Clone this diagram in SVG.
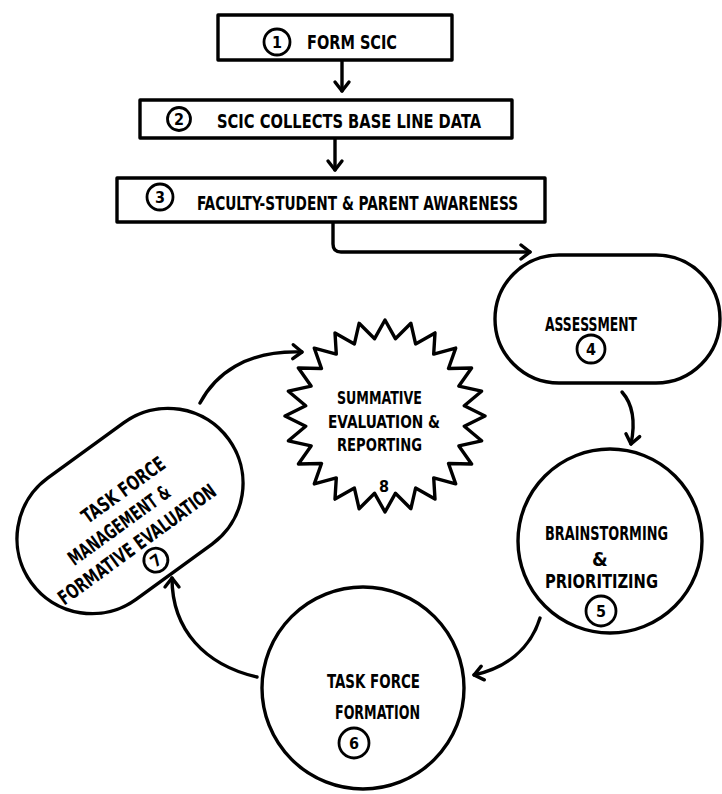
<svg xmlns="http://www.w3.org/2000/svg" width="722" height="794" viewBox="0 0 722 794">
<style>
  .shape { fill: #ffffff; stroke: #000000; stroke-width: 3.4; stroke-linejoin: round; }
  .num { fill: #ffffff; stroke: #000000; stroke-width: 2.8; }
  .t { font-family: "DejaVu Sans Condensed", "DejaVu Sans", sans-serif; font-weight: bold; font-size: 19px; fill: #000000; }
  .tb { font-family: "DejaVu Sans Condensed", "DejaVu Sans", sans-serif; font-weight: bold; font-size: 20px; fill: #000000; }
  .ts { font-family: "DejaVu Sans Condensed", "DejaVu Sans", sans-serif; font-weight: bold; font-size: 18px; fill: #000000; }
  .n { font-family: "DejaVu Sans Condensed", "DejaVu Sans", sans-serif; font-weight: bold; font-size: 16px; fill: #000000; text-anchor: middle; }
  .conn { fill: none; stroke: #000000; stroke-width: 3.4; stroke-linecap: round; }
</style>
<defs>
  <marker id="arr" markerUnits="userSpaceOnUse" markerWidth="24" markerHeight="24" viewBox="-12 -12 24 24" refX="0" refY="0" orient="auto">
    <path d="M-9,-7 L0,0 L-9,7" fill="none" stroke="#000000" stroke-width="3.4" stroke-linecap="round" stroke-linejoin="round"/>
  </marker>
</defs>
<rect x="0" y="0" width="722" height="794" fill="#ffffff"/>

<g id="connectors">
  <path class="conn" d="M342,60 L342,91" marker-end="url(#arr)"/>
  <path class="conn" d="M335,138 L335,170" marker-end="url(#arr)"/>
  <path class="conn" d="M333,222 L333,244 Q333,252 341,252 L530,252" marker-end="url(#arr)"/>
  <path class="conn" d="M622,392 Q638,410 631,444" marker-end="url(#arr)"/>
  <path class="conn" d="M540,618 C530,650 505,668 474,675" marker-end="url(#arr)"/>
  <path class="conn" d="M257,677 C205,665 172,630 172,578" marker-end="url(#arr)"/>
  <path class="conn" d="M200,403 C215,375 245,350 302,352" marker-end="url(#arr)"/>
</g>

<g id="step1">
  <rect class="shape" x="218" y="15" width="234" height="45"/>
  <circle class="num" cx="277" cy="42" r="13"/>
  <text class="n" x="277" y="48">1</text>
  <text class="t" x="307" y="49" textLength="90" lengthAdjust="spacingAndGlyphs">FORM SCIC</text>
</g>

<g id="step2">
  <rect class="shape" x="140" y="100" width="372" height="38"/>
  <circle class="num" cx="179" cy="119" r="11.5"/>
  <text class="n" x="179" y="125">2</text>
  <text class="t" x="217" y="128" textLength="264" lengthAdjust="spacingAndGlyphs">SCIC COLLECTS BASE LINE DATA</text>
</g>

<g id="step3">
  <rect class="shape" x="117" y="178" width="428" height="44"/>
  <circle class="num" cx="160" cy="197" r="13"/>
  <text class="n" x="160" y="203">3</text>
  <text class="t" x="197" y="210" textLength="321" lengthAdjust="spacingAndGlyphs">FACULTY-STUDENT &amp; PARENT AWARENESS</text>
</g>

<g id="step4">
  <rect class="shape" x="495" y="255" width="225" height="128" rx="64" ry="64"/>
  <text class="tb" x="545" y="331" textLength="92" lengthAdjust="spacingAndGlyphs">ASSESSMENT</text>
  <circle class="num" cx="591" cy="349" r="14"/>
  <text class="n" x="591" y="355">4</text>
</g>

<g id="step5">
  <circle class="shape" cx="610" cy="541" r="92"/>
  <text class="tb" x="545" y="540" textLength="123" lengthAdjust="spacingAndGlyphs">BRAINSTORMING</text>
  <text class="tb" x="592" y="566">&amp;</text>
  <text class="tb" x="545" y="588" textLength="113" lengthAdjust="spacingAndGlyphs">PRIORITIZING</text>
  <circle class="num" cx="601" cy="611" r="15"/>
  <text class="n" x="601" y="617">5</text>
</g>

<g id="step6">
  <circle class="shape" cx="363" cy="688" r="101"/>
  <text class="tb" x="327" y="688" textLength="93" lengthAdjust="spacingAndGlyphs">TASK FORCE</text>
  <text class="tb" x="335" y="719" textLength="85" lengthAdjust="spacingAndGlyphs">FORMATION</text>
  <circle class="num" cx="354" cy="743" r="15"/>
  <text class="n" x="354" y="749">6</text>
</g>

<g id="step7">
  <g transform="translate(130,511) rotate(-36)">
    <rect class="shape" x="-122" y="-75" width="244" height="150" rx="75" ry="75"/>
    <text class="tb" x="7" y="-14" text-anchor="middle" textLength="98" lengthAdjust="spacingAndGlyphs">TASK FORCE</text>
    <text class="tb" x="-17" y="12" text-anchor="middle" textLength="121" lengthAdjust="spacingAndGlyphs">MANAGEMENT &amp;</text>
    <text class="tb" x="-14" y="38" text-anchor="middle" textLength="190" lengthAdjust="spacingAndGlyphs">FORMATIVE EVALUATION</text>
    <circle class="num" cx="-8" cy="55" r="12"/>
    <text class="n" x="-8" y="61">7</text>
  </g>
</g>

<g id="step8">
  <g transform="translate(385,416)">
    <polygon class="shape" points="100,0 79.3,10.2 96.6,24.8 73.9,29.9 86.6,48 63.5,47.5 70.7,67.9 48.7,61.9 50,83.1 30.6,72.1 25.9,92.7 10.4,77.3 0,96 -10.4,77.3 -25.9,92.7 -30.6,72.1 -50,83.1 -48.7,61.9 -70.7,67.9 -63.5,47.5 -86.6,48 -73.9,29.9 -96.6,24.8 -79.3,10.2 -100,0 -79.3,-10.2 -96.6,-24.8 -73.9,-29.9 -86.6,-48 -63.5,-47.5 -70.7,-67.9 -48.7,-61.9 -50,-83.1 -30.6,-72.1 -25.9,-92.7 -10.4,-77.3 0,-96 10.4,-77.3 25.9,-92.7 30.6,-72.1 50,-83.1 48.7,-61.9 70.7,-67.9 63.5,-47.5 86.6,-48 73.9,-29.9 96.6,-24.8 79.3,-10.2"/>
  </g>
  <text class="ts" x="337" y="404" textLength="85" lengthAdjust="spacingAndGlyphs">SUMMATIVE</text>
  <text class="ts" x="328" y="428" textLength="112" lengthAdjust="spacingAndGlyphs">EVALUATION &amp;</text>
  <text class="ts" x="337" y="451" textLength="85" lengthAdjust="spacingAndGlyphs">REPORTING</text>
  <text class="n" x="384" y="492">8</text>
</g>
</svg>
